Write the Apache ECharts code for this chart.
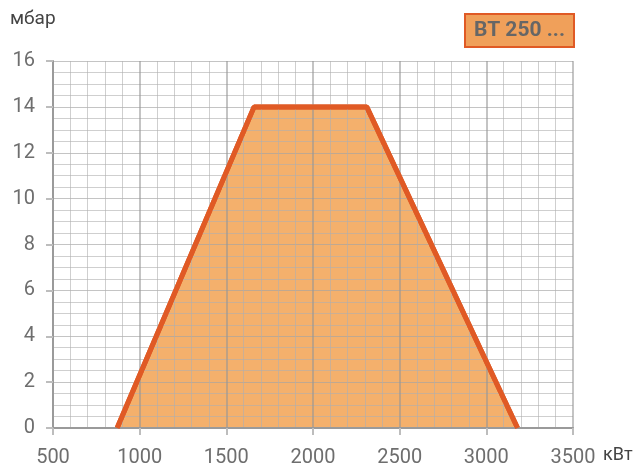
<!DOCTYPE html>
<html><head><meta charset="utf-8">
<script src="https://cdn.jsdelivr.net/npm/echarts@6/dist/echarts.min.js"></script>
<style>html,body{margin:0;padding:0;background:#fff}#c{width:636px;height:468px}</style>
</head><body><div id="c"></div>
<script>
const powerKW = [870, 1660, 2310, 3180];
const pressureMbar = [0, 14, 14, 0];
const xTicks = [500, 1000, 1500, 2000, 2500, 3000, 3500];
const yTicks = [0, 2, 4, 6, 8, 10, 12, 14, 16];
const modelLabel = 'BT 250 ...';
const xUnit = 'кВт';
const yUnit = 'мбар';

const chart = echarts.init(document.getElementById('c'));
const font = 'Roboto, "Noto Sans", sans-serif';
chart.setOption({
  animation: false,
  grid: {left: 53, right: 63, top: 61, bottom: 40},
  xAxis: {
    type: 'value', min: xTicks[0], max: xTicks[xTicks.length-1], interval: 500, z: 5,
    axisLine: {show: true, onZero: false, lineStyle: {color: '#9a9a9a', width: 2}},
    axisTick: {show: true, length: 7, lineStyle: {color: '#bdbdbd', width: 2}},
    axisLabel: {color: '#6e6e6e', fontSize: 20, fontFamily: font, margin: 20, formatter: v => String(v)},
    splitLine: {show: true, lineStyle: {color: 'rgba(150,150,150,0.75)', width: 1.5}},
    minorTick: {show: false, splitNumber: 5},
    minorSplitLine: {show: true, lineStyle: {color: 'rgba(175,175,175,0.6)', width: 1}}
  },
  yAxis: {
    type: 'value', min: yTicks[0], max: yTicks[yTicks.length-1], interval: 2, z: 5,
    axisLine: {show: true, lineStyle: {color: '#9a9a9a', width: 2}},
    axisTick: {show: true, length: 7, lineStyle: {color: '#bdbdbd', width: 2}},
    axisLabel: {color: '#6e6e6e', fontSize: 20, fontFamily: font, margin: 18, formatter: v => String(v)},
    splitLine: {show: true, lineStyle: {color: 'rgba(165,165,165,0.65)', width: 1}},
    minorTick: {show: false, splitNumber: 4},
    minorSplitLine: {show: true, lineStyle: {color: 'rgba(175,175,175,0.6)', width: 1}}
  },
  series: [{
    type: 'line', z: 2,
    data: powerKW.map((x, i) => [x, pressureMbar[i]]),
    symbol: 'none',
    lineStyle: {color: '#e05a25', width: 5},
    areaStyle: {color: '#f4b06c', opacity: 1, origin: 'start'}
  }, {
    type: 'line', z: 10,
    data: powerKW.map((x, i) => [x, pressureMbar[i]]),
    symbol: 'none',
    lineStyle: {color: '#e05a25', width: 5}
  }],
  graphic: [
    {type: 'text', left: 10, top: 10, style: {text: yUnit, fill: '#444', fontSize: 19, fontFamily: font}},
    {type: 'text', left: 603, top: 446, style: {text: xUnit, fill: '#444', fontSize: 18, fontFamily: font}},
    {type: 'rect', shape: {x: 465, y: 14, width: 109, height: 33}, style: {fill: '#f0a05a', stroke: '#e05a25', lineWidth: 2}},
    {type: 'text', x: 519.5, y: 31, style: {text: modelLabel, fill: '#666', fontSize: 21, fontWeight: 'bold', fontFamily: font, align: 'center', verticalAlign: 'middle'}}
  ]
});
</script></body></html>
